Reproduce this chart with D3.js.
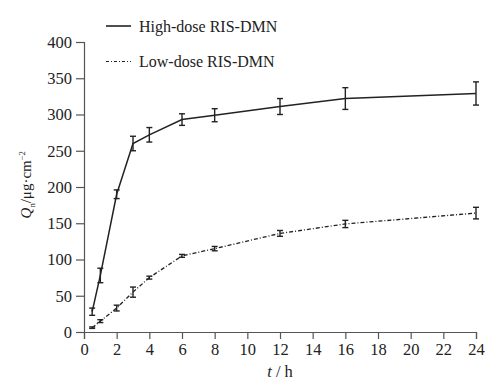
<!DOCTYPE html>
<html>
<head>
<meta charset="utf-8">
<script src="https://cdn.jsdelivr.net/npm/d3@7"></script>
<style>
  body { margin: 0; background: #fff; }
  svg text { font-family: "Times New Roman", "Liberation Serif", Tinos, "DejaVu Serif", serif !important; fill: #222; }
</style>
</head>
<body>
<div id="chart"></div>
<script>
const times = [0.5, 1, 2, 3, 4, 6, 8, 12, 16, 24];
const highValues = [28, 78, 190, 260, 272, 293, 299, 311, 322, 329];
const highErrors = [5, 10, 6, 10, 10, 8, 9, 11, 15, 16];
const lowValues = [6, 15, 33, 55, 75, 105, 115, 136, 149, 164];
const lowErrors = [1, 2, 4, 7, 2, 2, 3, 4, 5, 8];
const xTicks = d3.range(0, 25, 2);
const yTicks = [0, 50, 100, 150, 200, 250, 300, 350, 400];

const totalWidth = 496;
const totalHeight = 382;
const margin = { top: 42, right: 20, bottom: 50, left: 84 };
const width = 476 - margin.left;
const height = 332 - margin.top;

const xScale = d3.scaleLinear().domain([0, 24]).range([0, width]);
const yScale = d3.scaleLinear().domain([0, 400]).range([height, 0]);

const svg = d3
  .select('#chart')
  .append('svg')
  .attr('width', totalWidth)
  .attr('height', totalHeight)
  .append('g')
  .attr('transform', `translate(${margin.left}, ${margin.top})`);

// x axis
const xAxis = svg
  .append('g')
  .attr('transform', `translate(0, ${height})`)
  .call(d3.axisBottom(xScale).tickValues(xTicks).tickSize(7).tickPadding(4));

// y axis
const yAxis = svg
  .append('g')
  .call(d3.axisLeft(yScale).tickValues(yTicks).tickSize(8).tickPadding(4));

[xAxis, yAxis].forEach((g) => {
  g.attr('font-family', null);
  g.select('.domain').attr('stroke', '#555').attr('stroke-width', 1.2);
  g.selectAll('.tick line').attr('stroke', '#555').attr('stroke-width', 1.2);
  g.selectAll('.tick text').style('font-size', '16.5px').attr('fill', '#222');
});

// axis labels
const xLabel = svg
  .append('text')
  .attr('x', xScale(12))
  .attr('y', height + 45)
  .attr('text-anchor', 'middle')
  .style('font-size', '16.5px');
xLabel.append('tspan').attr('font-style', 'italic').text('t');
xLabel.append('tspan').text(' / h');

const yLabel = svg
  .append('text')
  .attr('transform', `translate(${31 - margin.left}, ${yScale(203)}) rotate(-90)`)
  .attr('text-anchor', 'middle')
  .style('font-size', '15px');
yLabel.append('tspan').attr('font-style', 'italic').text('Q');
yLabel.append('tspan').attr('dy', 4).style('font-size', '8.5px').text('n');
yLabel.append('tspan').attr('dy', -4).text('/μg·cm');
yLabel.append('tspan').attr('dy', -6).style('font-size', '8.5px').text('−2');

const series = [
  { name: 'High-dose RIS-DMN', values: highValues, errors: highErrors, dash: null },
  { name: 'Low-dose RIS-DMN', values: lowValues, errors: lowErrors, dash: '4,2,1,2' },
];

const line = d3
  .line()
  .x((d) => xScale(d.t))
  .y((d) => yScale(d.v));

series.forEach((s) => {
  const points = times.map((t, i) => ({ t, v: s.values[i], e: s.errors[i] }));

  // Render line
  svg
    .append('path')
    .datum(points)
    .attr('d', line)
    .attr('fill', 'none')
    .attr('stroke', '#222')
    .attr('stroke-width', s.dash ? 1.3 : 1.5)
    .attr('stroke-dasharray', s.dash);

  // Render error bars
  const bars = svg.append('g').attr('stroke', '#222').attr('stroke-width', 1.4);
  bars
    .selectAll('line.v')
    .data(points)
    .join('line')
    .attr('x1', (d) => xScale(d.t))
    .attr('x2', (d) => xScale(d.t))
    .attr('y1', (d) => yScale(d.v - d.e))
    .attr('y2', (d) => yScale(d.v + d.e));
  [-1, 1].forEach((sign) => {
    bars
      .selectAll(null)
      .data(points)
      .join('line')
      .attr('x1', (d) => xScale(d.t) - 3)
      .attr('x2', (d) => xScale(d.t) + 3)
      .attr('y1', (d) => yScale(d.v + sign * d.e))
      .attr('y2', (d) => yScale(d.v + sign * d.e));
  });
});

// Legend
const legend = svg.append('g').attr('transform', `translate(${106 - margin.left}, ${26 - margin.top})`);
series.forEach((s, i) => {
  const row = legend.append('g').attr('transform', `translate(0, ${i * 35.5})`);
  row
    .append('line')
    .attr('x1', 0)
    .attr('x2', 25)
    .attr('stroke', '#222')
    .attr('stroke-width', s.dash ? 1.2 : 1.6)
    .attr('stroke-dasharray', s.dash ? '3,2,1,2' : null);
  row
    .append('text')
    .attr('x', 33)
    .attr('y', 5.5)
    .style('font-size', '16px')
    .text(s.name);
});
</script>
</body>
</html>
